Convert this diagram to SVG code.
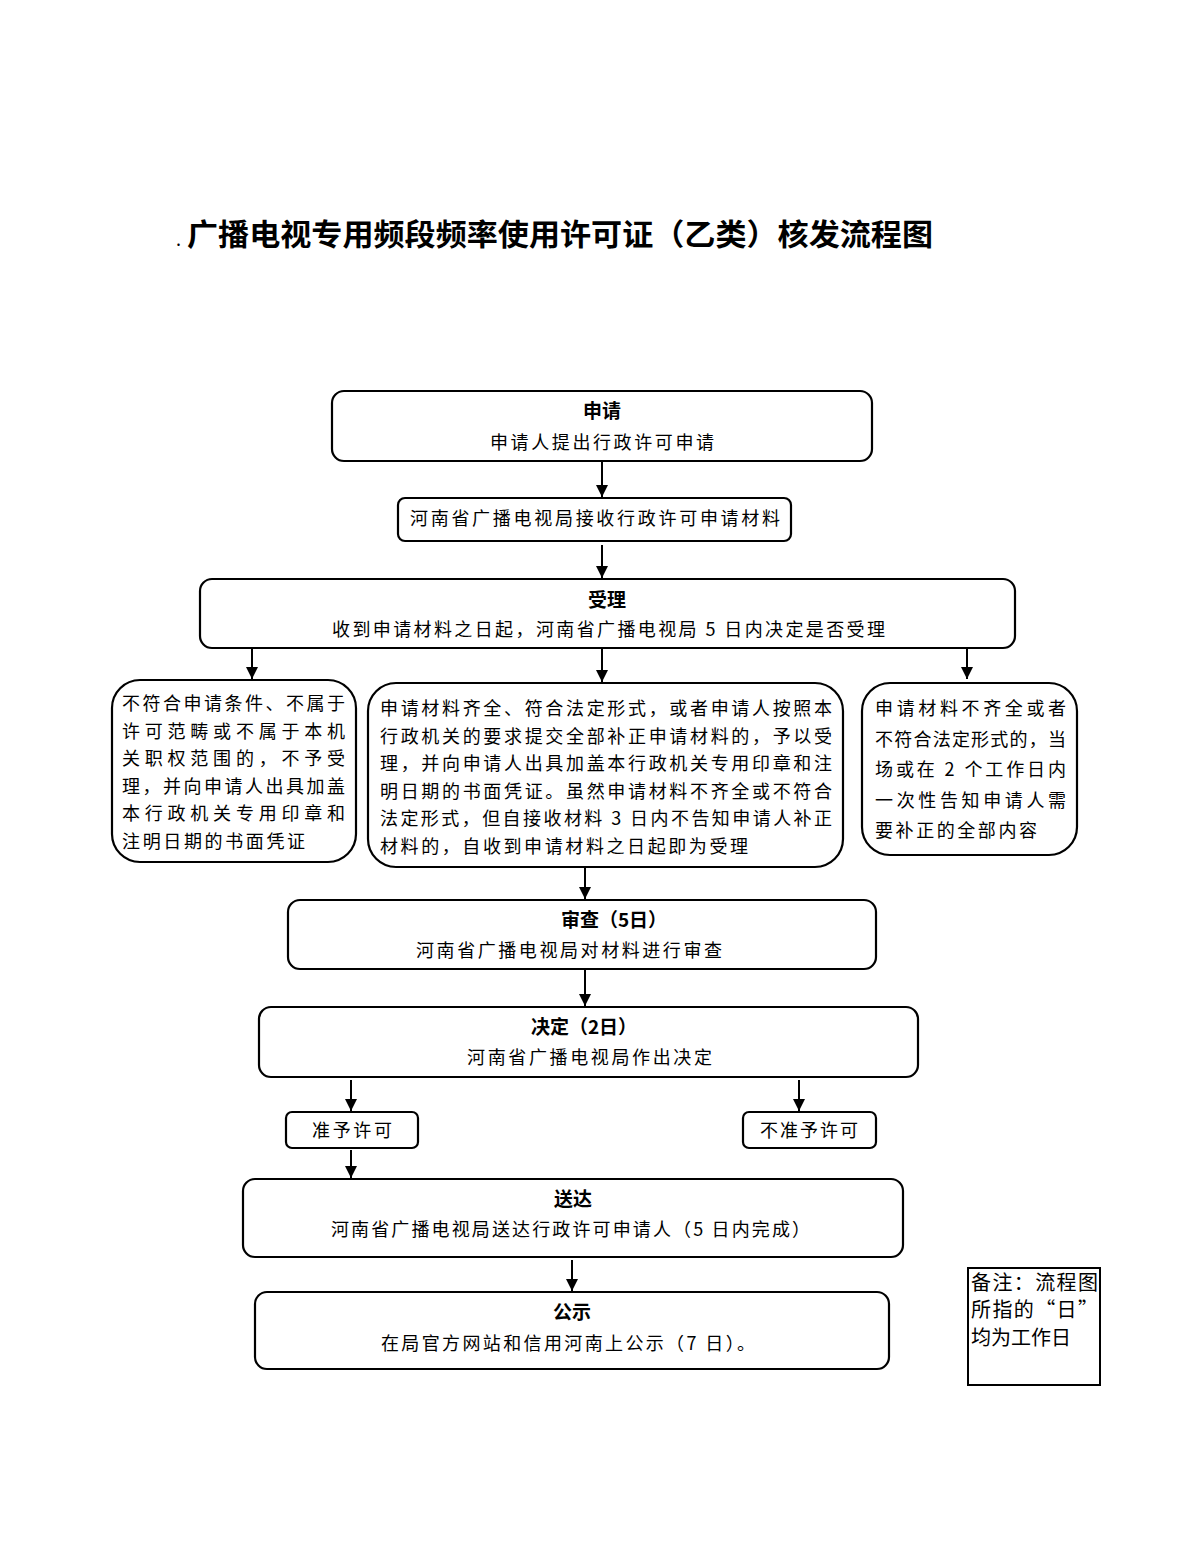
<svg xmlns="http://www.w3.org/2000/svg" width="1200" height="1553" viewBox="0 0 1200 1553">
<defs>
<marker id="ah" markerWidth="12" markerHeight="12" refX="10" refY="5" orient="auto" markerUnits="userSpaceOnUse" viewBox="0 0 10 10">
<path d="M0,0 L10,5 L0,10 Z" fill="#000"/>
</marker>
<style>
.box{fill:#fff;stroke:#000;stroke-width:2.2}
.t{font-family:"Noto Sans CJK SC","Noto Sans",sans-serif;font-size:18px;fill:#000}
.h{font-family:"Noto Sans CJK SC","Noto Sans",sans-serif;font-size:19px;font-weight:bold;fill:#000;text-anchor:middle}
.c{stroke:#000;stroke-width:2;fill:none;marker-end:url(#ah)}
.title{font-family:"Noto Sans CJK SC",sans-serif;font-size:30px;font-weight:bold;fill:#000}
.note{font-family:"Noto Sans CJK SC","Noto Sans",sans-serif;font-size:20px;fill:#000}
</style>
</defs>
<rect width="1200" height="1553" fill="#fff"/>
<g id="title">
<text x="176" y="246" class="t" font-size="12">.</text>
<text x="187" y="245" class="title" textLength="746" lengthAdjust="spacingAndGlyphs">广播电视专用频段频率使用许可证（乙类）核发流程图</text>
</g>
<g id="connectors">
<line class="c" x1="602" y1="462" x2="602" y2="497" stroke-width="3"/>
<line class="c" x1="602" y1="545" x2="602" y2="578"/>
<line class="c" x1="252" y1="649" x2="252" y2="679"/>
<line class="c" x1="602" y1="649" x2="602" y2="682"/>
<line class="c" x1="967" y1="649" x2="967" y2="679"/>
<line class="c" x1="585" y1="868" x2="585" y2="899"/>
<line class="c" x1="585" y1="970" x2="585" y2="1006"/>
<line class="c" x1="351" y1="1080" x2="351" y2="1111"/>
<line class="c" x1="799" y1="1080" x2="799" y2="1111"/>
<line class="c" x1="351" y1="1150" x2="351" y2="1178"/>
<line class="c" x1="572" y1="1260" x2="572" y2="1291"/>
</g>
<g id="n-apply">
<rect class="box" x="332" y="391" width="540" height="70" rx="12"/>
<text class="h" x="602" y="418">申请</text>
<text class="t" x="490" y="449" textLength="224" lengthAdjust="spacing">申请人提出行政许可申请</text>
</g>
<g id="n-receive">
<rect class="box" x="398" y="498" width="393" height="43" rx="7"/>
<text class="t" x="410" y="525" textLength="370" lengthAdjust="spacing">河南省广播电视局接收行政许可申请材料</text>
</g>
<g id="n-accept">
<rect class="box" x="200" y="579" width="815" height="69" rx="12"/>
<text class="h" x="607" y="607">受理</text>
<text class="t" x="332" y="636" textLength="553" lengthAdjust="spacing">收到申请材料之日起，河南省广播电视局 5 日内决定是否受理</text>
</g>
<g id="n-reject">
<rect class="box" x="112" y="680" width="244" height="182" rx="28"/>
<text class="t" x="122" y="710" textLength="223" lengthAdjust="spacing">不符合申请条件、不属于</text>
<text class="t" x="122" y="738" textLength="223" lengthAdjust="spacing">许可范畴或不属于本机</text>
<text class="t" x="122" y="765" textLength="223" lengthAdjust="spacing">关职权范围的，不予受</text>
<text class="t" x="122" y="793" textLength="223" lengthAdjust="spacing">理，并向申请人出具加盖</text>
<text class="t" x="122" y="820" textLength="223" lengthAdjust="spacing">本行政机关专用印章和</text>
<text class="t" x="122" y="848" textLength="183" lengthAdjust="spacing">注明日期的书面凭证</text>
</g>
<g id="n-ok">
<rect class="box" x="368" y="683" width="475" height="184" rx="28"/>
<text class="t" x="380" y="715" textLength="452" lengthAdjust="spacing">申请材料齐全、符合法定形式，或者申请人按照本</text>
<text class="t" x="380" y="743" textLength="452" lengthAdjust="spacing">行政机关的要求提交全部补正申请材料的，予以受</text>
<text class="t" x="380" y="770" textLength="452" lengthAdjust="spacing">理，并向申请人出具加盖本行政机关专用印章和注</text>
<text class="t" x="380" y="798" textLength="452" lengthAdjust="spacing">明日期的书面凭证。虽然申请材料不齐全或不符合</text>
<text class="t" x="380" y="825" textLength="452" lengthAdjust="spacing">法定形式，但自接收材料 3 日内不告知申请人补正</text>
<text class="t" x="380" y="853" textLength="368" lengthAdjust="spacing">材料的，自收到申请材料之日起即为受理</text>
</g>
<g id="n-incomplete">
<rect class="box" x="862" y="683" width="215" height="172" rx="28"/>
<text class="t" x="875" y="715" textLength="191" lengthAdjust="spacing">申请材料不齐全或者</text>
<text class="t" x="875" y="746" textLength="191" lengthAdjust="spacing">不符合法定形式的，当</text>
<text class="t" x="875" y="776" textLength="191" lengthAdjust="spacing">场或在 2 个工作日内</text>
<text class="t" x="875" y="807" textLength="191" lengthAdjust="spacing">一次性告知申请人需</text>
<text class="t" x="875" y="837" textLength="162" lengthAdjust="spacing">要补正的全部内容</text>
</g>
<g id="n-review">
<rect class="box" x="288" y="900" width="588" height="69" rx="12"/>
<text class="h" x="614" y="927">审查（5日）</text>
<text class="t" x="416" y="957" textLength="306" lengthAdjust="spacing">河南省广播电视局对材料进行审查</text>
</g>
<g id="n-decide">
<rect class="box" x="259" y="1007" width="659" height="70" rx="12"/>
<text class="h" x="584" y="1034">决定（2日）</text>
<text class="t" x="467" y="1064" textLength="245" lengthAdjust="spacing">河南省广播电视局作出决定</text>
</g>
<g id="n-grant">
<rect class="box" x="286" y="1112" width="132" height="36" rx="6"/>
<text class="t" x="312" y="1137" textLength="80" lengthAdjust="spacing">准予许可</text>
</g>
<g id="n-deny">
<rect class="box" x="743" y="1112" width="133" height="36" rx="6"/>
<text class="t" x="760" y="1137" textLength="98" lengthAdjust="spacing">不准予许可</text>
</g>
<g id="n-deliver">
<rect class="box" x="243" y="1179" width="660" height="78" rx="12"/>
<text class="h" x="573" y="1206">送达</text>
<text class="t" x="331" y="1236" textLength="479" lengthAdjust="spacing">河南省广播电视局送达行政许可申请人（5 日内完成）</text>
</g>
<g id="n-publish">
<rect class="box" x="255" y="1292" width="634" height="77" rx="12"/>
<text class="h" x="572" y="1319">公示</text>
<text class="t" x="381" y="1350" textLength="374" lengthAdjust="spacing">在局官方网站和信用河南上公示（7 日）。</text>
</g>
<g id="n-note">
<rect x="968" y="1268" width="132" height="117" fill="#fff" stroke="#000" stroke-width="2"/>
<text class="note" x="971" y="1290" textLength="127" lengthAdjust="spacing">备注：流程图</text>
<text class="note" x="971" y="1317" textLength="127" lengthAdjust="spacing">所指的“日”</text>
<text class="note" x="971" y="1345">均为工作日</text>
</g>
</svg>
